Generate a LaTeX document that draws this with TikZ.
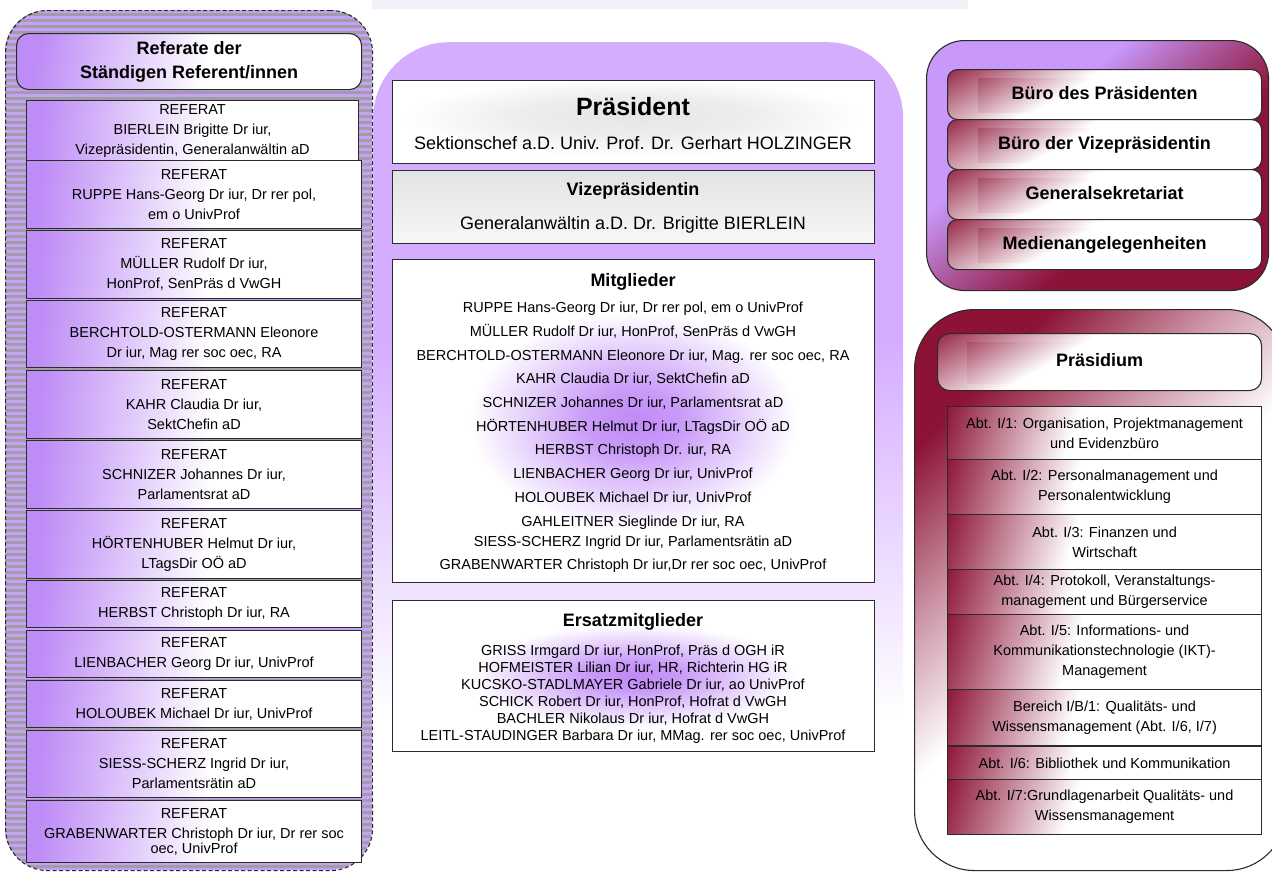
\documentclass[tikz,border=0pt]{standalone}
\usepackage{fontspec}
\setmainfont{Liberation Sans}
\usetikzlibrary{patterns.meta,calc}
\definecolor{stripeP}{HTML}{C9A0F9}
\definecolor{stripeG}{HTML}{9E9EA4}
\definecolor{purpL}{HTML}{D5ADFF}
\definecolor{refP}{HTML}{BE8CF6}
\definecolor{glowP}{HTML}{C08AF7}
\definecolor{dred}{HTML}{8C1236}
\definecolor{bpurp}{HTML}{C898FB}
\definecolor{edge}{HTML}{2B2B2B}
\definecolor{topband}{HTML}{F3F1F7}
\colorlet{dredA}{dred!90!white}
\colorlet{dredB}{dred!75!white}
\colorlet{dredC}{dred!45!white}
\colorlet{dredD}{dred!70!white}
\colorlet{bmid}{dred!50!bpurp}
\colorlet{glowQ}{glowP!85!white}
\colorlet{grayA}{white!97!black}
\colorlet{grayB}{black!11}
\colorlet{grayC}{black!10}
\colorlet{grayD}{black!7}
\pgfdeclareverticalshading{midsh}{100bp}{color(0bp)=(white); color(34bp)=(white); color(57bp)=(purpL); color(100bp)=(purpL)}
\pgfdeclareverticalshading{refsh}{100bp}{color(0bp)=(white); color(47bp)=(white); color(75bp)=(refP); color(100bp)=(refP)}
\pgfdeclareverticalshading{burosh}{100bp}{color(0bp)=(dred); color(40bp)=(dred); color(52bp)=(bmid); color(63bp)=(bpurp); color(100bp)=(bpurp)}
\pgfdeclareverticalshading{redtop}{100bp}{color(0bp)=(white); color(58bp)=(white); color(84bp)=(dredA); color(100bp)=(dredA)}
\pgfdeclareverticalshading{redinner}{100bp}{color(0bp)=(white); color(60bp)=(white); color(84bp)=(dredB); color(100bp)=(dredB)}
\pgfdeclareverticalshading{prsh}{100bp}{color(0bp)=(white); color(50bp)=(white); color(62bp)=(dredC); color(75bp)=(dred); color(100bp)=(dred)}
\pgfdeclareverticalshading{abtsh}{100bp}{color(0bp)=(white); color(56bp)=(white); color(74bp)=(dredD); color(82bp)=(dred); color(100bp)=(dred)}
\pgfdeclareverticalshading{vizsh}{100bp}{color(0bp)=(grayA); color(25bp)=(grayA); color(75bp)=(grayB); color(100bp)=(grayB)}
\pgfdeclareradialshading{glow}{\pgfpoint{0bp}{0bp}}{color(0bp)=(glowP); color(5bp)=(glowQ); color(17bp)=(white); color(50bp)=(white)}
\pgfdeclareradialshading{grayglow}{\pgfpoint{0bp}{5bp}}{color(0bp)=(grayC); color(12bp)=(grayD); color(24bp)=(white); color(50bp)=(white)}
\tikzset{
  bx/.style={draw=edge, line width=1.1pt, anchor=north west, inner sep=0pt},
  refbox/.style={bx, shading=refsh, shading angle=84, minimum width=335pt, align=center, text=black, font=\fontsize{14.5}{20}\selectfont},
  abtbox/.style={bx, shading=abtsh, shading angle=72, minimum width=314pt, align=center, text=black, font=\fontsize{14.5}{20}\selectfont},
  bueb/.style={bx, shading=redtop, shading angle=30, minimum width=314pt, rounded corners=10pt},
  innerr/.style={shading=redinner, shading angle=30},
  tx/.style={anchor=base, inner sep=0pt, text=black, font=\fontsize{14.5}{17}\selectfont},
  txl/.style={anchor=base, inner sep=0pt, text=black, font=\fontsize{18}{21}\selectfont},
  hd/.style={anchor=base, inner sep=0pt, text=black, font=\bfseries\fontsize{18}{21}\selectfont},
  hdc/.style={inner sep=0pt, text=black, font=\bfseries\fontsize{18}{21}\selectfont, text height=13pt, text depth=4pt},
}
\begin{document}
\begin{tikzpicture}[x=1pt,y=-1pt]
\useasboundingbox (0,0) rectangle (1272,873);
\clip (0,0) rectangle (1272,873);
\fill[white] (0,0) rectangle (1272,873);
\fill[topband] (372,0) rectangle (968,9);

% ---------- left column ----------
\path[fill=stripeP, rounded corners=42pt] (5,10) rectangle (372,870);
\path[pattern={Lines[angle=0,distance=6pt,line width=3pt]}, pattern color=stripeG, rounded corners=42pt] (5,10) rectangle (372,870);
\node[bx, draw=edge, dash pattern=on 4pt off 2.5pt, minimum width=367pt, minimum height=860pt, rounded corners=42pt] (leftcont) at (5,10) {};

\node[bx, shading=refsh, shading angle=80, minimum width=345pt, minimum height=56pt, rounded corners=12pt, align=center, font=\bfseries\fontsize{18}{24}\selectfont] (lhead) at (16,33) {Referate der\\Ständigen Referent/innen};

\node[refbox, minimum width=332pt, minimum height=60pt] (r1) at (26,100) {REFERAT\\BIERLEIN Brigitte Dr iur,\\Vizepräsidentin, Generalanwältin aD};
\node[refbox, minimum height=68pt] (r2) at (26,160) {REFERAT\\RUPPE Hans-Georg Dr iur, Dr rer pol,\\em o UnivProf};
\node[refbox, minimum height=68pt] (r3) at (26,230) {REFERAT\\MÜLLER Rudolf Dr iur,\\HonProf, SenPräs d VwGH};
\node[refbox, minimum height=67pt] (r4) at (26,300) {REFERAT\\BERCHTOLD-OSTERMANN Eleonore\\Dr iur, Mag rer soc oec, RA};
\node[refbox, minimum height=68pt] (r5) at (26,370) {REFERAT\\KAHR Claudia Dr iur,\\SektChefin aD};
\node[refbox, minimum height=68pt] (r6) at (26,440) {REFERAT\\SCHNIZER Johannes Dr iur,\\Parlamentsrat aD};
\node[refbox, minimum height=68pt] (r7) at (26,510) {REFERAT\\HÖRTENHUBER Helmut Dr iur,\\LTagsDir OÖ aD};
\node[refbox, minimum height=47pt] (r8) at (26,580) {REFERAT\\HERBST Christoph Dr iur, RA};
\node[refbox, minimum height=47pt] (r9) at (26,630) {REFERAT\\LIENBACHER Georg Dr iur, UnivProf};
\node[refbox, minimum height=47pt] (r10) at (26,680) {REFERAT\\HOLOUBEK Michael Dr iur, UnivProf};
\node[refbox, minimum height=67pt] (r11) at (26,730) {REFERAT\\SIESS-SCHERZ Ingrid Dr iur,\\Parlamentsrätin aD};
\node[refbox, minimum height=62pt] (r12) at (26,800) {REFERAT\\GRABENWARTER Christoph Dr iur, Dr rer soc\\[-5pt]oec, UnivProf};

% ---------- middle column ----------
\node[anchor=north west, inner sep=0pt, minimum width=530pt, minimum height=828pt, rounded corners=76pt, shading=midsh] (midcont) at (373,42) {};

\node[bx, minimum width=482pt, minimum height=83pt, shading=grayglow] (praes) at (392,80) {};
\node[hd, font=\bfseries\fontsize{25}{28}\selectfont] (praes-t) at (633,115) {Präsident};
\node[txl] (praes-n) at (633,149.5) {Sektionschef a.D. Univ. Prof. Dr. Gerhart HOLZINGER};

\node[bx, minimum width=482pt, minimum height=73pt, shading=vizsh] (vize) at (392,170) {};
\node[hd] (vize-t) at (633,195.5) {Vizepräsidentin};
\node[txl] (vize-n) at (633,229.5) {Generalanwältin a.D. Dr. Brigitte BIERLEIN};

\node[bx, minimum width=482pt, minimum height=323pt, shading=glow] (mitgl) at (392,259) {};
\node[hd] (mitgl-t) at (633,286.5) {Mitglieder};
\node[tx] (m1) at (633,312) {RUPPE Hans-Georg Dr iur, Dr rer pol, em o UnivProf};
\node[tx] (m2) at (633,336) {MÜLLER Rudolf Dr iur, HonProf, SenPräs d VwGH};
\node[tx] (m3) at (633,360) {BERCHTOLD-OSTERMANN Eleonore Dr iur, Mag. rer soc oec, RA};
\node[tx] (m4) at (633,383) {KAHR Claudia Dr iur, SektChefin aD};
\node[tx] (m5) at (633,407) {SCHNIZER Johannes Dr iur, Parlamentsrat aD};
\node[tx] (m6) at (633,431) {HÖRTENHUBER Helmut Dr iur, LTagsDir OÖ aD};
\node[tx] (m7) at (633,454) {HERBST Christoph Dr. iur, RA};
\node[tx] (m8) at (633,478) {LIENBACHER Georg Dr iur, UnivProf};
\node[tx] (m9) at (633,502) {HOLOUBEK Michael Dr iur, UnivProf};
\node[tx] (m10) at (633,526) {GAHLEITNER Sieglinde Dr iur, RA};
\node[tx] (m11) at (633,546) {SIESS-SCHERZ Ingrid Dr iur, Parlamentsrätin aD};
\node[tx] (m12) at (633,569) {GRABENWARTER Christoph Dr iur,Dr rer soc oec, UnivProf};

\node[bx, minimum width=482pt, minimum height=151pt, shading=glow] (ersatz) at (392,600) {};
\node[hd] (ersatz-t) at (633,626.5) {Ersatzmitglieder};
\node[tx] (e1) at (633,655) {GRISS Irmgard Dr iur, HonProf, Präs d OGH iR};
\node[tx] (e2) at (633,672) {HOFMEISTER Lilian Dr iur, HR, Richterin HG iR};
\node[tx] (e3) at (633,689) {KUCSKO-STADLMAYER Gabriele Dr iur, ao UnivProf};
\node[tx] (e4) at (633,706) {SCHICK Robert Dr iur, HonProf, Hofrat d VwGH};
\node[tx] (e5) at (633,723) {BACHLER Nikolaus Dr iur, Hofrat d VwGH};
\node[tx] (e6) at (633,740) {LEITL-STAUDINGER Barbara Dr iur, MMag. rer soc oec, UnivProf};

% ---------- right top ----------
\node[bx, minimum width=342pt, minimum height=250pt, rounded corners=38pt, shading=burosh, shading angle=41] (buero) at (926,40) {};
\node[bueb, minimum height=50pt] (b1) at (947,69) {};
\node[bueb, minimum height=50pt] (b2) at (947,119) {};
\node[bueb, minimum height=50pt] (b3) at (947,169) {};
\node[bueb, minimum height=50pt] (b4) at (947,219) {};
\foreach \b in {b1,b2,b3,b4}{
  \path[innerr] ($(\b.north west)+(31,9)$) rectangle ($(\b.south east)+(-21,-8)$);
}
\node[hdc] (b1-t) at (b1) {Büro des Präsidenten};
\node[hdc] (b2-t) at (b2) {Büro der Vizepräsidentin};
\node[hdc] (b3-t) at (b3) {Generalsekretariat};
\node[hdc] (b4-t) at (b4) {Medienangelegenheiten};

% ---------- right bottom ----------
\node[bx, minimum width=372pt, minimum height=561pt, rounded corners=60pt, shading=prsh, shading angle=46] (praesidium) at (914,309) {};
\node[bx, minimum width=324pt, minimum height=57pt, rounded corners=12pt, shading=redtop, shading angle=30] (phead) at (937,333) {};
\path[innerr] ($(phead.north west)+(30,9)$) rectangle ($(phead.south east)+(-30,-8)$);
\node[hdc] (phead-t) at (phead) {Präsidium};

\node[abtbox, minimum height=53pt] (a1) at (947,406) {Abt. I/1: Organisation, Projektmanagement\\und Evidenzbüro};
\node[abtbox, minimum height=55pt] (a2) at (947,459) {Abt. I/2: Personalmanagement und\\Personalentwicklung};
\node[abtbox, minimum height=55pt] (a3) at (947,514) {Abt. I/3: Finanzen und\\Wirtschaft};
\node[abtbox, minimum height=45pt] (a4) at (947,569) {Abt. I/4: Protokoll, Veranstaltungs-\\management und Bürgerservice};
\node[abtbox, minimum height=75pt] (a5) at (947,614) {Abt. I/5: Informations- und\\Kommunikationstechnologie (IKT)-\\Management};
\node[abtbox, minimum height=56pt] (a6) at (947,689) {Bereich I/B/1: Qualitäts- und\\Wissensmanagement (Abt. I/6, I/7)};
\node[abtbox, minimum height=33pt] (a7) at (947,746) {Abt. I/6: Bibliothek und Kommunikation};
\node[abtbox, minimum height=55pt] (a8) at (947,779) {Abt. I/7:Grundlagenarbeit Qualitäts- und\\Wissensmanagement};
\end{tikzpicture}
\end{document}
